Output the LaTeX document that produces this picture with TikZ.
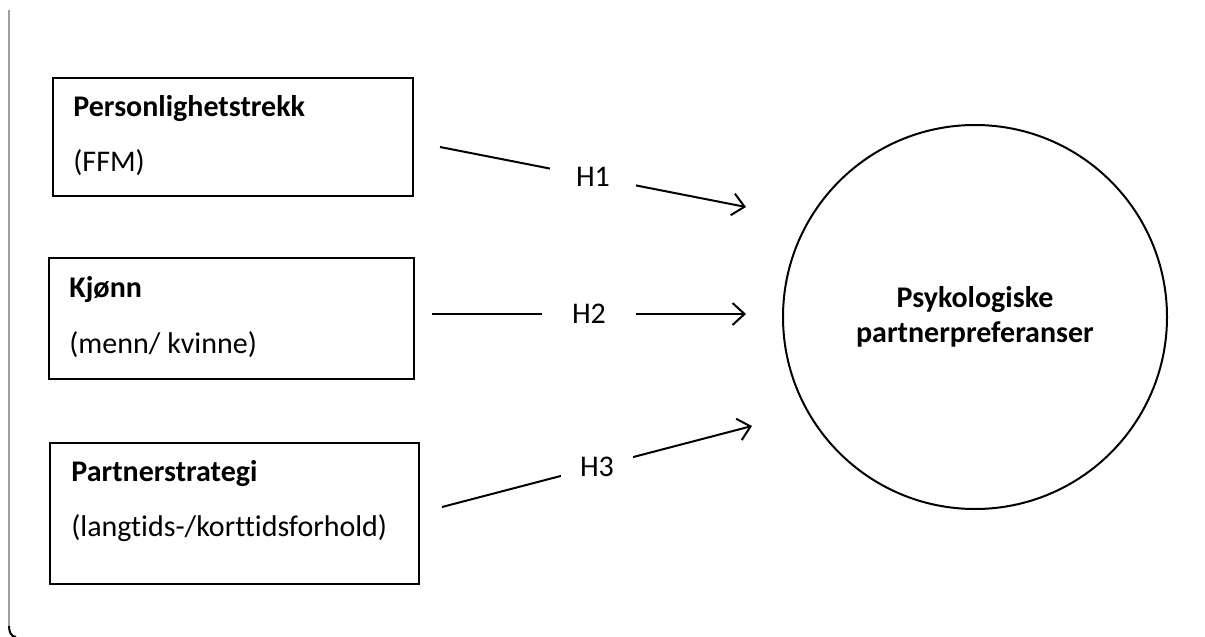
\documentclass[tikz,border=0pt]{standalone}
\usepackage{fontspec}
\setmainfont{Carlito}[Ligatures=NoCommon]
\usetikzlibrary{arrows.meta, positioning}

\begin{document}
\begin{tikzpicture}[
	x=0.5pt, y=-0.5pt,
	every node/.style = {font=\fontsize{15pt}{17.5pt}\selectfont},
	box/.style = {draw, line width=1pt, anchor=north west, inner sep=0pt},
	title/.style = {anchor=base west, inner sep=0pt, font=\fontsize{15pt}{17.5pt}\selectfont\bfseries},
	sub/.style = {anchor=base west, inner sep=0pt},
	arrow/.style = {-{Straight Barb[length=6pt, width=11pt]}, line width=1pt},
	hyp/.style = {fill=white, inner ysep=2pt, inner xsep=#1}
]

\useasboundingbox (0,0) rectangle (1205,637);

\draw[gray!75, line width=1pt] (9,10) -- (9,627);
\draw[line width=1pt] (9,626) to[out=-90, in=180] (16,637);

\node[box, minimum width=180pt, minimum height=59pt] (pers) at (52,77) {};
\node[box, minimum width=182.5pt, minimum height=60.5pt] (kjonn) at (48,257) {};
\node[box, minimum width=184.5pt, minimum height=70.5pt] (strat) at (49,442) {};

\node[title] (pers title) at ([shift={(21,39)}]pers.north west) {Personlighetstrekk};
\node[sub] (pers sub) at ([shift={(21,94)}]pers.north west) {(FFM)};
\node[title] (kjonn title) at ([shift={(21,40)}]kjonn.north west) {Kjønn};
\node[sub] (kjonn sub) at ([shift={(21,96)}]kjonn.north west) {(menn/ kvinne)};
\node[title] (strat title) at ([shift={(22,39)}]strat.north west) {Partnerstrategi};
\node[sub] (strat sub) at ([shift={(22,94)}]strat.north west) {(langtids-/korttidsforhold)};

\node[circle, draw, line width=1pt, minimum size=192pt, inner sep=0pt, align=center,
	font=\fontsize{15pt}{17.5pt}\selectfont\bfseries] (pref) at (975,317) {Psykologiske\\partnerpreferanser};

\coordinate (h1 start) at (440,147);
\coordinate (h1 end) at (746,207);
\coordinate (h2 start) at (432,314);
\coordinate (h2 end) at (746,314);
\coordinate (h3 start) at (442,507);
\coordinate (h3 end) at (752,426);

\draw[arrow] (h1 start) -- node[hyp=13pt] (h1) {H1} (h1 end);
\draw[arrow] (h2 start) -- node[hyp=15pt] (h2) {H2} (h2 end);
\draw[arrow] (h3 start) -- node[hyp=9.5pt] (h3) {H3} (h3 end);

\end{tikzpicture}
\end{document}
